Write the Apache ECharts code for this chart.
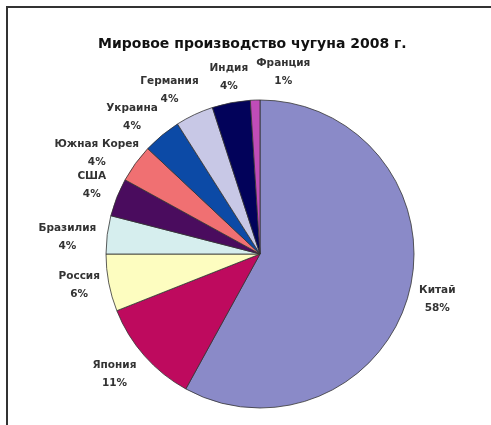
<!DOCTYPE html>
<html>
<head>
<meta charset="utf-8">
<script src="https://cdn.jsdelivr.net/npm/echarts@6/dist/echarts.min.js"></script>
<style>
html,body{margin:0;padding:0;background:#fff;}
#chart{width:491px;height:425px;}
</style>
</head>
<body>
<div id="chart"></div>
<script>
var titleText = 'Мировое производство чугуна 2008 г.';
var countries = ['Китай','Япония','Россия','Бразилия','США','Южная Корея','Украина','Германия','Индия','Франция'];
var shares = [58, 11, 6, 4, 4, 4, 4, 4, 4, 1];
var colors = ['#8a8ac8','#be0a5e','#fdfdc0','#d6eeee','#4a0c5e','#f07072','#0c4aa6','#c8c8e6','#02025a','#c04cb8'];
// small label nudges (style only), [dx, dy] per slice
var labelNudges = [[-4,0],[-4,0],[3,-3],[-7,6],[6,-2],[-11,6],[-7,3],[-8,1],[8,2],[34,0]];

var chart = echarts.init(document.getElementById('chart'));
chart.setOption({
  animation: false,
  backgroundColor: '#fff',
  title: {
    text: titleText,
    left: 93,
    top: 32,
    textStyle: {fontFamily: 'DejaVu Sans', fontWeight: 'bold', fontSize: 14, color: '#111'}
  },
  graphic: [
    {type: 'line', shape: {x1: 6, y1: 7, x2: 491, y2: 7}, style: {stroke: '#333', lineWidth: 2}},
    {type: 'line', shape: {x1: 7, y1: 6, x2: 7, y2: 425}, style: {stroke: '#333', lineWidth: 2}}
  ],
  series: [{
    type: 'pie',
    center: [260, 254],
    radius: 154,
    startAngle: 90,
    clockwise: true,
    avoidLabelOverlap: false,
    data: countries.map(function (c, i) {
      return {name: c, value: shares[i], itemStyle: {color: colors[i]}};
    }),
    itemStyle: {borderColor: '#333', borderWidth: 0.8},
    label: {
      show: true,
      position: 'outside',
      formatter: function (p) { return p.name + '\n' + shares[p.dataIndex] + '%'; },
      fontFamily: 'DejaVu Sans',
      fontWeight: 'bold',
      fontSize: 10.5,
      lineHeight: 18,
      color: '#333'
    },
    labelLine: {show: false, length: 28, length2: 0},
    labelLayout: function (p) {
      var n = labelNudges[p.dataIndex];
      return {align: 'center', verticalAlign: 'middle', dx: n[0], dy: n[1]};
    }
  }]
});
</script>
</body>
</html>
